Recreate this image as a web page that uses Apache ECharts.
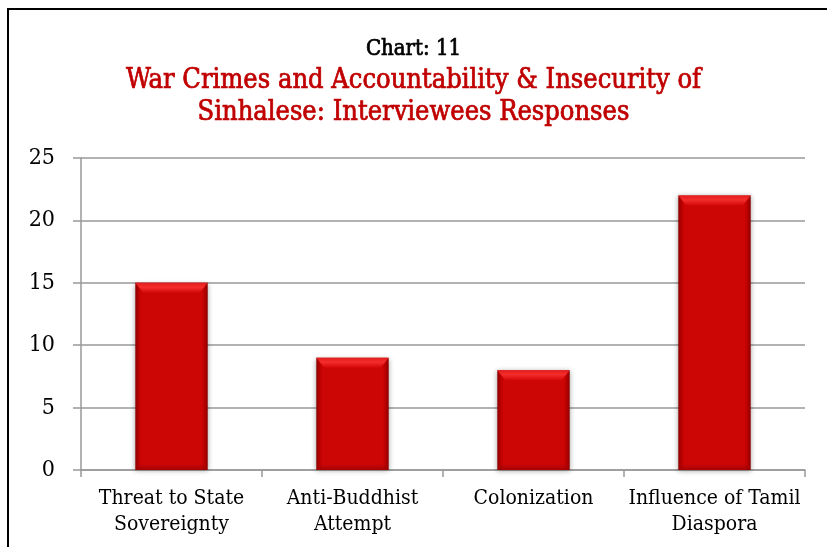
<!DOCTYPE html>
<html>
<head>
<meta charset="utf-8">
<script src="https://cdn.jsdelivr.net/npm/echarts@6/dist/echarts.min.js"></script>
<style>
  html, body { margin: 0; padding: 0; background: #fff; }
  #chart { width: 827px; height: 547px; }
</style>
</head>
<body>
<div id="chart"></div>
<script>
// Interviewee responses per category
const categories = [
  'Threat to State\nSovereignty',
  'Anti-Buddhist\nAttempt',
  'Colonization',
  'Influence of Tamil\nDiaspora'
];
const responses = [15, 9, 8, 22];
const yTicks = { min: 0, max: 25, interval: 5 };

const serif = '"DejaVu Serif Condensed", "DejaVu Serif", serif';

const chart = echarts.init(document.getElementById('chart'));

// Horizontal shading for the bar body: dark rims, bright face
const bodyFill = new echarts.graphic.LinearGradient(0, 0, 1, 0, [
  { offset: 0, color: '#8a0000' },
  { offset: 0.04, color: '#b40000' },
  { offset: 0.08, color: '#cc0505' },
  { offset: 0.92, color: '#cc0505' },
  { offset: 0.96, color: '#b40000' },
  { offset: 1, color: '#8a0000' }
]);
const topFill = new echarts.graphic.LinearGradient(0, 0, 0, 1, [
  { offset: 0, color: '#e21c1c' },
  { offset: 0.45, color: '#f42c2c' },
  { offset: 1, color: '#d40808' }
]);
const bottomFill = new echarts.graphic.LinearGradient(0, 0, 0, 1, [
  { offset: 0, color: 'rgba(120,0,0,0)' },
  { offset: 1, color: 'rgba(120,0,0,0.45)' }
]);

// Bevelled bar drawn from the axis coordinates of each value
function renderBar(params, api) {
  const idx = api.value(0);
  const top = api.coord([idx, api.value(1)]);
  const base = api.coord([idx, 0]);
  const w = api.size([1, 0])[0] * 0.4;
  const x0 = top[0] - w / 2;
  const x1 = top[0] + w / 2;
  const yt = top[1];
  const yb = base[1];
  const bev = 10;
  return {
    type: 'group',
    children: [
      {
        type: 'rect',
        shape: { x: x0, y: yt, width: w, height: yb - yt },
        style: {
          fill: bodyFill,
          shadowBlur: 5,
          shadowColor: 'rgba(0,0,0,0.35)',
          shadowOffsetY: 1
        }
      },
      {
        type: 'polygon',
        shape: { points: [[x0, yt], [x1, yt], [x1 - 8, yt + bev], [x0 + 8, yt + bev]] },
        style: { fill: topFill }
      },
      {
        type: 'rect',
        shape: { x: x0 + 3, y: yb - 6, width: w - 6, height: 6 },
        style: { fill: bottomFill }
      }
    ]
  };
}

chart.setOption({
  backgroundColor: '#fff',
  animation: false,
  title: [
    {
      text: 'Chart: 11',
      left: 'center',
      top: 33,
      textStyle: {
        fontFamily: serif, fontSize: 22, fontWeight: 'normal', color: '#000',
        textBorderColor: '#000', textBorderWidth: 0.7
      }
    },
    {
      text: 'War Crimes and Accountability & Insecurity of\nSinhalese: Interviewees Responses',
      left: 'center',
      top: 60,
      textStyle: {
        fontFamily: serif, fontSize: 27, fontWeight: 'normal', color: '#c00000', lineHeight: 32,
        textBorderColor: '#c00000', textBorderWidth: 0.7
      }
    }
  ],
  graphic: [
    {
      type: 'rect',
      shape: { x: 8, y: 9, width: 840, height: 560 },
      style: { fill: 'none', stroke: '#000', lineWidth: 2 },
      silent: true
    }
  ],
  grid: { left: 81, right: 22, top: 158, bottom: 77 },
  xAxis: {
    type: 'category',
    data: categories,
    axisLine: { lineStyle: { color: '#999', width: 1.5 } },
    axisTick: { show: true, length: 7, alignWithLabel: false, lineStyle: { color: '#999', width: 1.5 } },
    axisLabel: {
      fontFamily: serif, fontSize: 21, color: '#000', margin: 16, lineHeight: 26, interval: 0
    }
  },
  yAxis: {
    type: 'value',
    min: yTicks.min,
    max: yTicks.max,
    interval: yTicks.interval,
    axisLine: { show: true, lineStyle: { color: '#999', width: 1.5 } },
    axisTick: { show: true, length: 8, lineStyle: { color: '#999', width: 1.5 } },
    splitLine: { lineStyle: { color: '#999', width: 1.5 } },
    axisLabel: { fontFamily: serif, fontSize: 23, color: '#000', margin: 26 }
  },
  series: [
    {
      type: 'custom',
      renderItem: renderBar,
      encode: { x: 0, y: 1 },
      data: responses.map((v, i) => [i, v])
    }
  ]
});
</script>
</body>
</html>
